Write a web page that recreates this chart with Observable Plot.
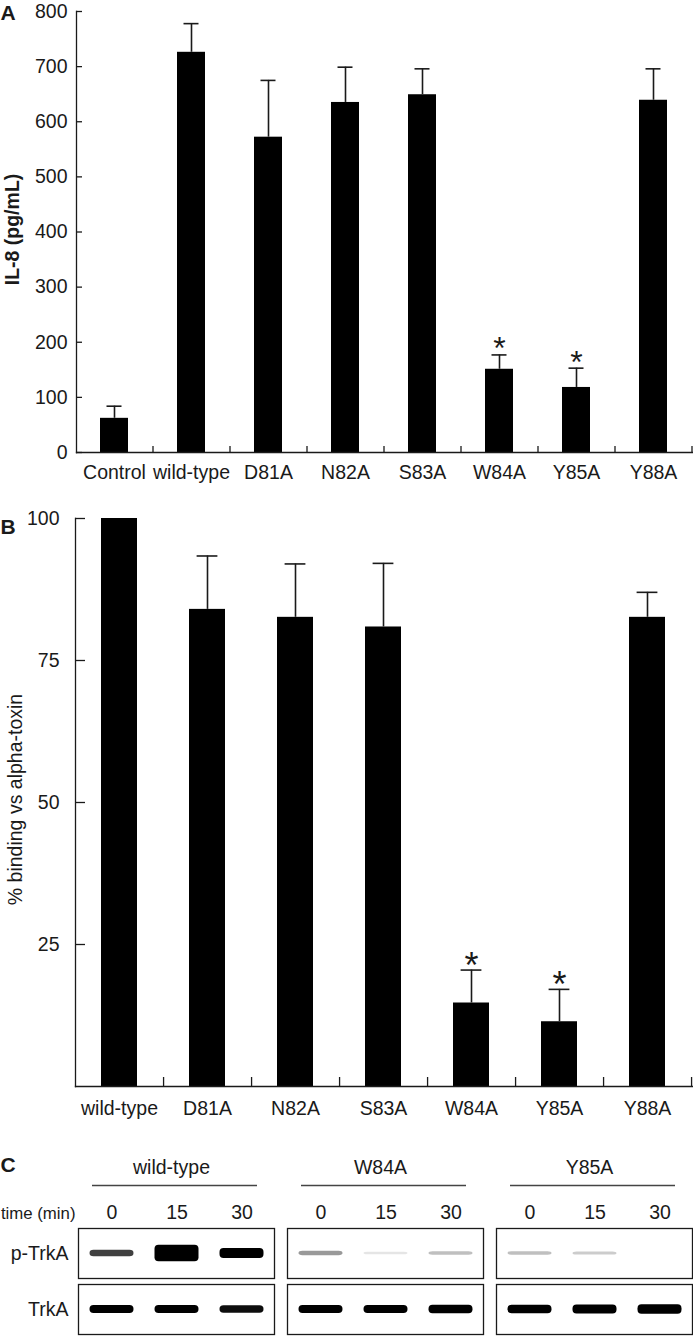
<!DOCTYPE html>
<html><head><meta charset="utf-8">
<script src="https://cdn.jsdelivr.net/npm/d3@7"></script>
<script src="https://cdn.jsdelivr.net/npm/@observablehq/plot@0.6"></script>
<style>
body{margin:0;background:#fff;}
#root{position:relative;width:693px;height:1336px;overflow:hidden;background:#fff}
#root svg{position:absolute;left:0;overflow:visible}
</style></head><body><div id="root"></div>
<script>
// ---------- Panel A data ----------
const catsA = ["Control","wild-type","D81A","N82A","S83A","W84A","Y85A","Y88A"];
const il8Mean = [62, 726, 572, 635, 649, 151, 118, 639];
const il8Sem  = [22, 52, 103, 64, 47, 26, 35, 57];
const il8Sig  = ["W84A","Y85A"];
const il8Ticks = [0,100,200,300,400,500,600,700,800];
const il8Label = "IL-8 (pg/mL)";

// ---------- Panel B data ----------
const catsB = ["wild-type","D81A","N82A","S83A","W84A","Y85A","Y88A"];
const bindMean = [100, 84.0, 82.6, 80.9, 14.7, 11.4, 82.6];
const bindSem  = [0, 9.4, 9.4, 11.2, 5.8, 5.7, 4.4];
const bindSig  = ["W84A","Y85A"];
const bindTicks = [25,50,75,100];
const bindLabel = "% binding vs alpha-toxin";

// ---------- Panel C data (western blot band signal, arbitrary units) ----------
const blotGroups = ["wild-type","W84A","Y85A"];
const blotTimes  = [0,15,30];
const blotRows   = ["p-TrkA","TrkA"];
const pTrkASignal = [[0.75,2.5,1.4],[0.4,0.1,0.25],[0.25,0.2,0]];
const trkASignal  = [[1.0,1.0,0.95],[1.0,1.0,1.1],[1.1,1.2,1.3]];
const timeLabel = "time (min)";

const FONT = "'Liberation Sans', Arial, Helvetica, sans-serif";
const INK = "#1a1a1a";
const root = document.getElementById("root");

// ---------- Panel A ----------
const dataA = catsA.map((name,i)=>({name, mean: il8Mean[i], hi: il8Mean[i]+il8Sem[i], sig: il8Sig.includes(name)}));
const wA = 693, mlA = 76, mrA = 1, hA = 495, mtA = 11, mbA = 43;
const stepA = (wA-mlA-mrA)/catsA.length;
const pxA = (hA-mtA-mbA)/800;
const svgA = Plot.plot({
  width: wA, height: hA, marginLeft: mlA, marginRight: mrA, marginTop: mtA, marginBottom: mbA,
  style: {fontFamily: FONT, fontSize: "19.5px", color: INK, background: "transparent", overflow: "visible"},
  x: {domain: catsA, paddingInner: 0.63, paddingOuter: 0.315},
  y: {domain: [0,800]},
  marks: [
    Plot.barY(dataA, {x:"name", y:"mean", fill:"#000"}),
    Plot.ruleX(dataA, {x:"name", y1:"mean", y2:"hi", stroke: INK, strokeWidth: 1.6}),
    Plot.tickY(dataA, {x:"name", y:"hi", stroke: INK, strokeWidth: 1.6, insetLeft: 6.5, insetRight: 6.5}),
    Plot.text(dataA.filter(d=>d.sig), {x:"name", y:"hi", text: ()=>"*", fontSize: 32, lineAnchor:"bottom", dy: 4.5}),
    Plot.ruleX(catsA, {x: d=>d, y1: 0, y2: 6/pxA, dx: stepA/2, stroke: INK, strokeWidth: 1.3}),
    Plot.frame({anchor:"left", stroke: INK, strokeWidth: 1.3}),
    Plot.frame({anchor:"bottom", stroke: INK, strokeWidth: 1.3}),
    Plot.axisY({ticks: il8Ticks, tickSize: 6, dx: 6, tickPadding: 9, tickFormat: d=>String(d), label: null, stroke: INK, strokeWidth: 1.3}),
    Plot.axisX({tickSize: 0, tickPadding: 13, label: null}),
    Plot.text([il8Label], {frameAnchor: "left", textAnchor: "middle", rotate: -90, dx: 12.5 - mlA, dy: -2.5, fontWeight: "bold", text: d=>d}),
    Plot.text(["A"], {frameAnchor: "top-left", dx: -mlA, dy: 8, textAnchor: "start", lineAnchor: "bottom", fontWeight: "bold", fontSize: 21, text: d=>d})
  ]
});
svgA.style.top = "0px";
root.appendChild(svgA);

// ---------- Panel B ----------
const dataB = catsB.map((name,i)=>({name, mean: bindMean[i], hi: bindMean[i]+bindSem[i], sem: bindSem[i], sig: bindSig.includes(name)}));
const topB = 495, wB = 693, mlB = 75, mrB = 1, hB = 626, mtB = 23, mbB = 35;
const stepB = (wB-mlB-mrB)/catsB.length;
const pxB = (hB-mtB-mbB)/100;
const errB = dataB.filter(d=>d.sem>0);
const svgB = Plot.plot({
  width: wB, height: hB, marginLeft: mlB, marginRight: mrB, marginTop: mtB, marginBottom: mbB,
  style: {fontFamily: FONT, fontSize: "19.5px", color: INK, background: "transparent", overflow: "visible"},
  x: {domain: catsB, paddingInner: 0.59, paddingOuter: 0.295},
  y: {domain: [0,100]},
  marks: [
    Plot.barY(dataB, {x:"name", y:"mean", fill:"#000"}),
    Plot.ruleX(errB, {x:"name", y1:"mean", y2:"hi", stroke: INK, strokeWidth: 1.6}),
    Plot.tickY(errB, {x:"name", y:"hi", stroke: INK, strokeWidth: 1.6, insetLeft: 7.6, insetRight: 7.6}),
    Plot.text(dataB.filter(d=>d.sig), {x:"name", y:"hi", text: ()=>"*", fontSize: 36, lineAnchor:"bottom", dy: 8}),
    Plot.ruleX(catsB, {x: d=>d, y1: 0, y2: 9/pxB, dx: stepB/2, stroke: INK, strokeWidth: 1.3}),
    Plot.frame({anchor:"left", stroke: INK, strokeWidth: 1.3}),
    Plot.frame({anchor:"bottom", stroke: INK, strokeWidth: 1.3}),
    Plot.axisY({ticks: bindTicks, tickSize: 10, dx: 10, tickPadding: 16, tickFormat: d=>String(d), label: null, stroke: INK, strokeWidth: 1.3}),
    Plot.axisX({tickSize: 0, tickPadding: 15, label: null}),
    Plot.text([bindLabel], {frameAnchor: "left", textAnchor: "middle", rotate: -90, dx: 15 - mlB, dy: -3, text: d=>d}),
    Plot.text(["B"], {frameAnchor: "top-left", dx: -mlB, dy: 15, textAnchor: "start", lineAnchor: "bottom", fontWeight: "bold", fontSize: 21, text: d=>d})
  ]
});
svgB.style.top = topB + "px";
root.appendChild(svgB);

// ---------- Panel C ----------
const bands = [];
blotGroups.forEach((g,gi)=>blotTimes.forEach((t,ti)=>{
  bands.push({group:g, time:t, row:"p-TrkA", signal:pTrkASignal[gi][ti]});
  bands.push({group:g, time:t, row:"TrkA", signal:trkASignal[gi][ti]});
}));
const topC = 1135, hC = 201, mtC = 92, mbC = 1, mlC = 78, mrC = 1;
const fyPad = 0.105;
const rowH = (hC-mtC-mbC)/(2-fyPad)*(1-fyPad);
const pxC = rowH/2;
const half = s => (1 + 3*Math.min(s,3))/pxC;
const svgC = Plot.plot({
  width: 693, height: hC, marginTop: mtC, marginBottom: mbC, marginLeft: mlC, marginRight: mrC,
  style: {fontFamily: FONT, fontSize: "19.5px", color: INK, background: "transparent", overflow: "visible"},
  fx: {domain: blotGroups, paddingInner: 0.0625, paddingOuter: 0, label: null},
  fy: {domain: blotRows, paddingInner: fyPad, paddingOuter: 0, label: null},
  x: {domain: blotTimes, padding: 0},
  y: {domain: [-1,1], axis: null},
  opacity: {domain: [0,1], clamp: true},
  marks: [
    Plot.barY(bands.filter(d=>d.signal>0), {fx:"group", fy:"row", x:"time", y1: d=>-half(d.signal), y2: d=>half(d.signal),
      fill:"#000", fillOpacity:"signal", insetLeft: 10.5, insetRight: 10.5, rx: 4, ariaLabel: "bands"}),
    Plot.frame({stroke: INK, strokeWidth: 1.3}),
    Plot.axisFx({anchor:"top", tickSize: 0, tickPadding: 55, dx: -5, label: null}),
    Plot.axisFy({anchor:"left", tickSize: 0, tickPadding: 10, label: null}),
    Plot.axisX({anchor:"top", tickSize: 0, tickPadding: 10, label: null}),
    Plot.ruleY(blotGroups, {fx: d=>d, fy: ()=>"p-TrkA", y: ()=>1, dy: -43, insetLeft: 14, insetRight: 17, stroke: "#444", strokeWidth: 1.5}),
    Plot.text([timeLabel], {fx: ()=>"wild-type", fy: ()=>"p-TrkA", frameAnchor: "top-left", textAnchor: "end", lineAnchor: "bottom", dx: -3, dy: -10, fontSize: 16.8, text: d=>d}),
    Plot.text(["C"], {fx: ()=>"wild-type", fy: ()=>"p-TrkA", frameAnchor: "top-left", textAnchor: "start", lineAnchor: "bottom", dx: -mlC, dy: -57, fontWeight: "bold", fontSize: 21, text: d=>d})
  ]
});
(function addBlur(svg){
  const ns = "http://www.w3.org/2000/svg";
  const defs = document.createElementNS(ns, "defs");
  const f = document.createElementNS(ns, "filter");
  f.setAttribute("id", "blot-blur");
  f.setAttribute("x", "-10%"); f.setAttribute("y", "-30%");
  f.setAttribute("width", "120%"); f.setAttribute("height", "160%");
  const b = document.createElementNS(ns, "feGaussianBlur");
  b.setAttribute("stdDeviation", "1.4");
  f.appendChild(b); defs.appendChild(f);
  svg.insertBefore(defs, svg.firstChild);
  svg.querySelectorAll('g[aria-label="bands"]').forEach(g => g.setAttribute("filter", "url(#blot-blur)"));
})(svgC);
svgC.style.top = topC + "px";
root.appendChild(svgC);
</script></body></html>
